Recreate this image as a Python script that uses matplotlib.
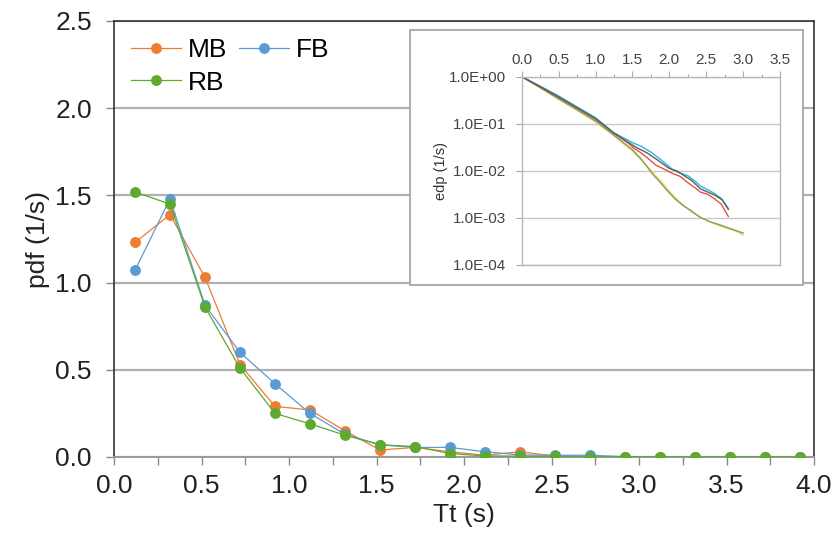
import matplotlib
matplotlib.use("Agg")
import matplotlib.pyplot as plt
from matplotlib.patches import Rectangle
from matplotlib.ticker import MultipleLocator, FixedLocator, FuncFormatter
import numpy as np

plt.rcParams['font.family'] = ['Liberation Sans', 'DejaVu Sans']

# ---------------- data ----------------
tt = [0.12, 0.32, 0.52, 0.72, 0.92, 1.12, 1.32, 1.52, 1.72, 1.92,
      2.12, 2.32, 2.52, 2.72, 2.92, 3.12, 3.32, 3.52, 3.72, 3.92]
mb = [1.23, 1.39, 1.03, 0.53, 0.29, 0.27, 0.15, 0.04, 0.055, 0.03,
      0.01, 0.03, 0.005, 0.003, 0.002, 0.001, 0.001, 0.001, 0.0, 0.0]
fb = [1.07, 1.48, 0.87, 0.60, 0.42, 0.25, 0.13, 0.07, 0.055, 0.055,
      0.03, 0.012, 0.01, 0.01, 0.002, 0.001, 0.001, 0.001, 0.0, 0.0]
rb = [1.52, 1.45, 0.86, 0.51, 0.25, 0.19, 0.125, 0.07, 0.06, 0.02,
      0.006, 0.005, 0.003, 0.002, 0.002, 0.001, 0.001, 0.001, 0.001, 0.001]

x_ticks = [0.0, 0.5, 1.0, 1.5, 2.0, 2.5, 3.0, 3.5, 4.0]
y_ticks = [0.0, 0.5, 1.0, 1.5, 2.0, 2.5]

# inset (edp, log scale) curves: x and log10(edp)
in_cyan_x = [0.0, 0.25, 0.5, 0.75, 1.0, 1.24, 1.38, 1.5, 1.62, 1.75, 1.9, 2.05, 2.15, 2.25, 2.35, 2.42, 2.52, 2.6, 2.7, 2.8]
in_cyan_y = [0.0, -0.2, -0.41, -0.64, -0.87, -1.18, -1.3, -1.4, -1.48, -1.6, -1.78, -1.98, -2.05, -2.1, -2.22, -2.32, -2.4, -2.47, -2.58, -2.8]
in_red_x = [0.0, 0.25, 0.5, 0.75, 1.0, 1.25, 1.45, 1.52, 1.6, 1.7, 1.82, 1.95, 2.05, 2.15, 2.25, 2.35, 2.42, 2.52, 2.6, 2.7, 2.8]
in_red_y = [0.0, -0.22, -0.44, -0.67, -0.9, -1.2, -1.42, -1.52, -1.6, -1.72, -1.88, -1.98, -2.06, -2.12, -2.25, -2.36, -2.45, -2.5, -2.58, -2.7, -2.97]
in_gray_x = [0.0, 0.25, 0.5, 0.75, 1.0, 1.25, 1.4, 1.55, 1.7, 1.85, 2.0, 2.1, 2.2, 2.3, 2.42, 2.52, 2.62, 2.72, 2.8]
in_gray_y = [0.0, -0.21, -0.43, -0.66, -0.89, -1.2, -1.35, -1.5, -1.62, -1.78, -1.95, -2.0, -2.1, -2.2, -2.38, -2.45, -2.52, -2.62, -2.82]
in_olive_x = [0.0, 0.25, 0.5, 0.75, 1.0, 1.25, 1.5, 1.62, 1.78, 1.88, 1.96, 2.08, 2.19, 2.3, 2.42, 2.55, 2.69, 2.85, 3.0]
in_olive_y = [0.0, -0.23, -0.47, -0.7, -0.94, -1.24, -1.55, -1.75, -2.08, -2.25, -2.4, -2.6, -2.74, -2.85, -2.99, -3.08, -3.15, -3.24, -3.32]
in_yellow_x = [0.0, 0.25, 0.5, 0.75, 1.0, 1.25, 1.5, 1.7, 1.9, 2.1, 2.3, 2.5, 2.7, 2.9, 3.0]
in_yellow_y = [0.0, -0.24, -0.48, -0.72, -0.96, -1.26, -1.58, -1.9, -2.25, -2.6, -2.88, -3.05, -3.18, -3.28, -3.36]
in_x_ticks = [0.0, 0.5, 1.0, 1.5, 2.0, 2.5, 3.0, 3.5]
in_y_ticks = [1e0, 1e-1, 1e-2, 1e-3, 1e-4]

# ---------------- figure ----------------
W, H = 840, 552
fig = plt.figure(figsize=(W / 100, H / 100), dpi=100)
fig.patch.set_facecolor('white')

ax = fig.add_axes([114 / W, 1 - 457 / H, (814 - 114) / W, (457 - 21) / H])
c_mb, c_fb, c_rb = '#ED7D31', '#5B9BD5', '#5DAA2E'
l_mb, = ax.plot(tt, mb, '-o', color=c_mb, lw=0.9, ms=6.8, mec=c_mb, label='MB', zorder=3)
l_fb, = ax.plot(tt, fb, '-o', color=c_fb, lw=0.9, ms=6.8, mec=c_fb, label='FB', zorder=4)
l_rb, = ax.plot(tt, rb, '-o', color=c_rb, lw=0.9, ms=6.8, mec=c_rb, label='RB', zorder=5)

ax.set_xlim(0, 4.0)
ax.set_ylim(0, 2.5)
ax.set_xticks(x_ticks)
ax.xaxis.set_minor_locator(MultipleLocator(0.25))
ax.set_yticks(y_ticks)
ax.xaxis.set_major_formatter(FuncFormatter(lambda v, p: f"{v:.1f}"))
ax.yaxis.set_major_formatter(FuncFormatter(lambda v, p: f"{v:.1f}"))
ax.tick_params(axis='both', which='both', direction='out', length=6, width=1,
               color='#888888', labelsize=19, labelcolor='#222222')
ax.tick_params(axis='x', pad=6)
ax.tick_params(axis='y', pad=10)
ax.grid(axis='y', color='#b0b0b0', lw=1.6, zorder=0)
ax.set_axisbelow(True)
for s in ['left', 'right', 'top']:
    ax.spines[s].set_color('#333333')
    ax.spines[s].set_linewidth(1.2)
ax.spines['bottom'].set_color('#999999')
ax.spines['bottom'].set_linewidth(1.4)
ax.set_xlabel('Tt (s)', fontsize=19, color='#222222', labelpad=4)
ax.set_ylabel('pdf (1/s)', fontsize=19, color='#222222', labelpad=4)

leg = ax.legend(handles=[l_mb, l_rb, l_fb], ncol=2, loc='upper left',
                bbox_to_anchor=(0.0, 1.0), frameon=False, fontsize=19,
                handlelength=1.9, handletextpad=0.25, columnspacing=0.45,
                labelspacing=0.32, borderaxespad=0.25)

# inset outer box
box = Rectangle((410 / W, 1 - 285 / H), (803 - 410) / W, (285 - 30) / H,
                transform=fig.transFigure, facecolor='white', edgecolor='#a0a0a0',
                lw=1.2, zorder=10)
fig.patches.append(box)

ia = fig.add_axes([521.7 / W, 1 - 265 / H, (780 - 521.7) / W, (265 - 76.7) / H], zorder=11)
ia.set_yscale('log')
ia.set_xlim(0, 3.5)
ia.set_ylim(1e-4, 1.0)
for xs, ys, col in [(in_yellow_x, in_yellow_y, '#E8D86A'),
                    (in_olive_x, in_olive_y, '#8E9A5B'),
                    (in_cyan_x, in_cyan_y, '#2FB8D0'),
                    (in_red_x, in_red_y, '#E0553A'),
                    (in_gray_x, in_gray_y, '#56606A')]:
    ia.plot(xs, [10 ** v for v in ys], color=col, lw=1.0)
ia.xaxis.tick_top()
ia.set_xticks(in_x_ticks)
ia.xaxis.set_minor_locator(MultipleLocator(0.25))
ia.xaxis.set_major_formatter(FuncFormatter(lambda v, p: f"{v:.1f}"))
ia.yaxis.set_major_locator(FixedLocator(in_y_ticks))
ia.yaxis.set_minor_locator(FixedLocator([]))
ia.yaxis.set_major_formatter(FuncFormatter(lambda v, p: f"{v:.1E}"))
ia.tick_params(axis='both', which='both', direction='out', length=4, width=0.8,
               color='#aaaaaa', labelsize=11, labelcolor='#444444')
ia.tick_params(axis='x', which='minor', length=2)
ia.tick_params(axis='x', pad=3)
ia.tick_params(axis='y', pad=7)
ia.grid(axis='y', which='major', color='#c8c8c8', lw=1.0)
for s in ia.spines.values():
    s.set_color('#b8b8b8')
    s.set_linewidth(1.0)
ia.set_ylabel('edp (1/s)', fontsize=10.5, color='#333333', labelpad=1)

fig.savefig('out.png', dpi=100)
